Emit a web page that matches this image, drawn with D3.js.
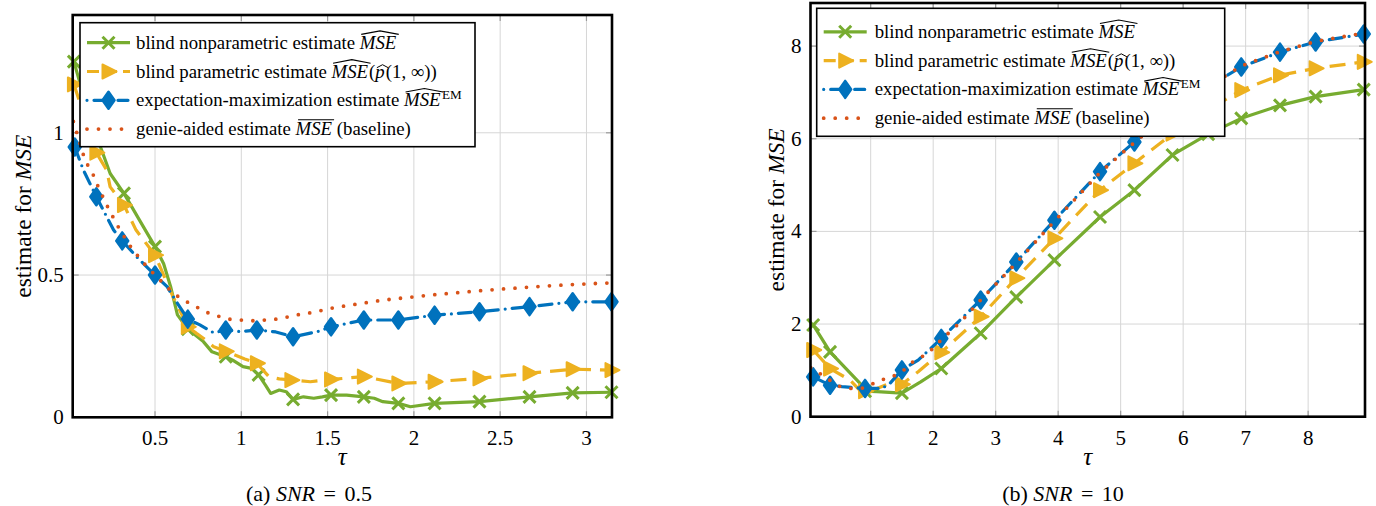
<!DOCTYPE html>
<html>
<head>
<meta charset="utf-8">
<script src="https://cdn.jsdelivr.net/npm/d3@7"></script>
</head>
<body style="margin:0;background:#fff">
<svg id="fig" width="1376" height="506" style="display:block"></svg>
<script>
// values: [tau, estimate, marker drawn?]
const snr05Nonparam = [
  [0.03, 1.25, 1], [0.1, 1.1, 0], [0.16, 0.99, 1], [0.24, 0.857, 0], [0.32, 0.787, 1],
  [0.41, 0.693, 0], [0.5, 0.6, 1], [0.55, 0.54, 0], [0.59, 0.46, 0], [0.63, 0.36, 0],
  [0.69, 0.31, 1], [0.78, 0.266, 0], [0.83, 0.23, 0], [0.91, 0.213, 1], [0.95, 0.201, 0],
  [1.01, 0.178, 0], [1.06, 0.172, 0], [1.1, 0.149, 1], [1.14, 0.113, 0], [1.17, 0.084, 0],
  [1.22, 0.096, 0], [1.26, 0.09, 0], [1.3, 0.063, 1], [1.36, 0.072, 0], [1.42, 0.067, 0],
  [1.47, 0.072, 0], [1.52, 0.078, 1], [1.61, 0.078, 0], [1.71, 0.072, 1], [1.77, 0.067, 0],
  [1.82, 0.055, 0], [1.91, 0.049, 1], [1.98, 0.037, 0], [2.12, 0.049, 1], [2.38, 0.055, 1],
  [2.67, 0.072, 1], [2.92, 0.086, 1], [3.145, 0.088, 1]
];
const snr05Param = [
  [0.03, 1.17, 1], [0.16, 0.93, 1], [0.22, 0.869, 0], [0.24, 0.81, 0], [0.32, 0.746, 1],
  [0.39, 0.658, 0], [0.5, 0.57, 1], [0.6, 0.43, 0], [0.69, 0.318, 1], [0.74, 0.295, 0],
  [0.78, 0.278, 0], [0.84, 0.248, 0], [0.91, 0.232, 1], [1.02, 0.205, 0], [1.09, 0.19, 1],
  [1.16, 0.143, 0], [1.22, 0.135, 0], [1.29, 0.131, 1], [1.4, 0.125, 0], [1.52, 0.133, 1],
  [1.71, 0.143, 1], [1.91, 0.119, 1], [2.12, 0.125, 1], [2.38, 0.137, 1], [2.67, 0.155, 1],
  [2.92, 0.169, 1], [3.145, 0.166, 1]
];
const snr05EM = [
  [0.035, 0.95, 1], [0.085, 0.869, 0], [0.16, 0.775, 1], [0.22, 0.705, 0], [0.26, 0.658, 0],
  [0.31, 0.62, 1], [0.4, 0.56, 0], [0.5, 0.5, 1], [0.57, 0.459, 0], [0.62, 0.41, 0],
  [0.69, 0.345, 1], [0.76, 0.325, 0], [0.84, 0.297, 0], [0.91, 0.307, 1], [1.0, 0.301, 0],
  [1.09, 0.307, 1], [1.2, 0.3, 0], [1.3, 0.283, 1], [1.44, 0.301, 0], [1.52, 0.318, 1],
  [1.71, 0.342, 1], [1.91, 0.342, 1], [2.12, 0.359, 1], [2.38, 0.371, 1], [2.67, 0.389, 1],
  [2.92, 0.406, 1], [3.145, 0.406, 1]
];
const snr05Genie = [
  [0.027, 1.04, 0], [0.094, 0.904, 0], [0.143, 0.851, 0], [0.171, 0.81, 0], [0.23, 0.734, 0],
  [0.297, 0.658, 0], [0.365, 0.594, 0], [0.43, 0.545, 0], [0.5, 0.5, 0], [0.558, 0.465, 0],
  [0.606, 0.436, 0], [0.664, 0.412, 0], [0.732, 0.391, 0], [0.79, 0.371, 0], [0.857, 0.357, 0],
  [0.925, 0.345, 0], [0.993, 0.342, 0], [1.06, 0.339, 0], [1.137, 0.342, 0], [1.205, 0.345, 0],
  [1.272, 0.353, 0], [1.34, 0.362, 0], [1.408, 0.368, 0], [1.475, 0.377, 0], [1.543, 0.386, 0],
  [1.823, 0.412, 0], [2.103, 0.43, 0], [2.383, 0.445, 0], [2.653, 0.457, 0], [2.866, 0.465, 0],
  [3.078, 0.471, 0], [3.145, 0.472, 0]
];

const snr10Nonparam = [
  [0.08, 1.98, 1], [0.35, 1.4, 1], [0.83, 0.72, 0], [0.91, 0.55, 1], [1.1, 0.54, 0],
  [1.5, 0.51, 1], [1.8, 0.75, 0], [2.13, 1.04, 1], [2.76, 1.8, 1], [3.33, 2.58, 1],
  [3.94, 3.38, 1], [4.67, 4.31, 1], [5.22, 4.89, 1], [5.83, 5.65, 1], [6.4, 6.1, 1],
  [6.93, 6.44, 1], [7.55, 6.72, 1], [8.12, 6.91, 1], [8.89, 7.06, 1]
];
const snr10Param = [
  [0.08, 1.44, 1], [0.35, 1.04, 1], [0.67, 0.79, 0], [0.86, 0.52, 0], [0.91, 0.55, 1],
  [1.1, 0.61, 0], [1.31, 0.72, 0], [1.5, 0.7, 1], [1.76, 0.97, 0], [2.13, 1.39, 1],
  [2.76, 2.16, 1], [3.33, 2.99, 1], [3.94, 3.85, 1], [4.67, 4.89, 1], [5.22, 5.47, 1],
  [5.83, 6.11, 1], [6.4, 6.62, 1], [6.93, 7.05, 1], [7.55, 7.37, 1], [8.12, 7.52, 1],
  [8.89, 7.66, 1]
];
const snr10EM = [
  [0.08, 0.86, 1], [0.35, 0.68, 1], [0.54, 0.65, 0], [0.72, 0.63, 0], [0.91, 0.61, 1],
  [1.18, 0.61, 0], [1.31, 0.72, 0], [1.5, 1.01, 1], [1.76, 1.22, 0], [2.13, 1.69, 1],
  [2.76, 2.52, 1], [3.33, 3.34, 1], [3.94, 4.24, 1], [4.67, 5.29, 1], [5.22, 5.93, 1],
  [5.83, 6.6, 1], [6.4, 7.12, 1], [6.93, 7.55, 1], [7.55, 7.87, 1], [8.12, 8.09, 1],
  [8.89, 8.26, 1]
];
const snr10Genie = [
  [0.04, 1.06, 0], [0.27, 0.86, 0], [0.38, 0.755, 0], [0.51, 0.65, 0], [0.67, 0.61, 0],
  [0.9, 0.62, 0], [1.15, 0.79, 0], [1.31, 0.84, 0], [1.5, 0.97, 0], [1.68, 1.19, 0],
  [1.92, 1.37, 0], [2.13, 1.66, 0], [2.45, 2.06, 0], [2.76, 2.52, 0], [3.33, 3.32, 0],
  [3.94, 4.22, 0], [4.67, 5.27, 0], [5.22, 5.92, 0], [5.83, 6.6, 0], [6.4, 7.12, 0],
  [6.93, 7.57, 0], [7.55, 7.88, 0], [8.12, 8.1, 0], [8.89, 8.28, 0]
];

const snr05XTicks = [0.5, 1, 1.5, 2, 2.5, 3];
const snr05YTicks = [0, 0.5, 1];
const snr10XTicks = [1, 2, 3, 4, 5, 6, 7, 8];
const snr10YTicks = [0, 2, 4, 6, 8];

const SERIF = "'Liberation Serif'";
const FONT = 18.8;

// how each estimator is drawn (same in both panels)
const styles = [
  { key: "nonparam", color: "#77AC30", dash: null, cap: "butt", width: 3.2, marker: "cross" },
  { key: "param", color: "#EDB120", dash: "16 9", cap: "butt", width: 3.2, marker: "triangle" },
  { key: "em", color: "#0072BD", dash: "13 7 0 7", cap: "round", width: 3.2, marker: "diamond" },
  { key: "genie", color: "#D95319", dash: "0 11.5", cap: "round", width: 3.8, marker: null }
];

const svg = d3.select("#fig");

// writes text made of pieces (plain / italic / superscript) and draws hats / bars
function mathText(parent, x, y, parts, size, anchor) {
  const g = parent.append("g");
  let cx = 0;
  parts.forEach(p => {
    const fs = p.sup ? size * 0.7 : size;
    const dy = p.sup ? -size * 0.4 : 0;
    const t = g.append("text")
      .attr("x", cx).attr("y", dy)
      .attr("xml:space", "preserve")
      .style("font-family", SERIF)
      .style("white-space", "pre")
      .style("font-size", fs + "px")
      .style("font-style", p.it ? "italic" : "normal")
      .text(p.t);
    const w = t.node().getComputedTextLength();
    if (p.deco == "hat") {
      g.append("path")
        .attr("d", `M${cx + 1.5},${-size * 0.76} L${cx + w / 2 + 2},${-size * 0.95} L${cx + w + 2.5},${-size * 0.76}`)
        .attr("fill", "none").attr("stroke", "#000").attr("stroke-width", 1.1);
    } else if (p.deco == "bar") {
      g.append("line")
        .attr("x1", cx + 2.5).attr("x2", cx + w + 2)
        .attr("y1", -size * 0.82).attr("y2", -size * 0.82)
        .attr("stroke", "#000").attr("stroke-width", 1.1);
    } else if (p.deco == "smallhat") {
      g.append("path")
        .attr("d", `M${cx + 1.5},${-size * 0.52} L${cx + w / 2 + 2.5},${-size * 0.68} L${cx + w + 3.5},${-size * 0.52}`)
        .attr("fill", "none").attr("stroke", "#000").attr("stroke-width", 1);
    }
    cx += w + (p.gap || 0);
  });
  const shift = anchor == "middle" ? -cx / 2 : 0;
  g.attr("transform", `translate(${x + shift},${y})`);
  return g;
}

function drawMarker(sel, type, color) {
  if (type == "cross") {
    sel.append("path").attr("d", "M-6,-6L6,6M-6,6L6,-6")
      .attr("stroke", color).attr("stroke-width", 3).attr("fill", "none");
  } else if (type == "triangle") {
    sel.append("path").attr("d", "M-6,-7L8,0L-6,7Z")
      .attr("fill", color).attr("stroke", color).attr("stroke-width", 2).attr("stroke-linejoin", "round");
  } else if (type == "diamond") {
    sel.append("path").attr("d", "M0,-8.5L6,0L0,8.5L-6,0Z")
      .attr("fill", color).attr("stroke", color).attr("stroke-width", 2.5).attr("stroke-linejoin", "round");
  }
}

const legendLabels = [
  [{ t: "blind nonparametric estimate " }, { t: "MSE", it: true, deco: "hat" }],
  [{ t: "blind parametric estimate " }, { t: "MSE", it: true, deco: "hat", gap: 1 }, { t: "(" },
   { t: "p", it: true, deco: "smallhat", gap: 1 }, { t: "(1, ∞))" }],
  [{ t: "expectation-maximization estimate " }, { t: "MSE", it: true, deco: "hat", gap: 1.5 }, { t: "EM", sup: true }],
  [{ t: "genie-aided estimate " }, { t: "MSE", it: true, deco: "bar" }, { t: " (baseline)" }]
];

function drawPanel(p) {
  const x = d3.scaleLinear().domain(p.xDomain).range([p.left, p.right]);
  const y = d3.scaleLinear().domain(p.yDomain).range([p.bottom, p.top]);
  const g = svg.append("g");

  // grid
  g.append("g").selectAll("line").data(p.xTicks).enter().append("line")
    .attr("x1", d => x(d)).attr("x2", d => x(d))
    .attr("y1", p.top).attr("y2", p.bottom)
    .attr("stroke", "#d6d6d6").attr("stroke-width", 1);
  g.append("g").selectAll("line").data(p.yTicks).enter().append("line")
    .attr("x1", p.left).attr("x2", p.right)
    .attr("y1", d => y(d)).attr("y2", d => y(d))
    .attr("stroke", "#d6d6d6").attr("stroke-width", 1);
  // small ticks on every side
  p.xTicks.forEach(d => {
    g.append("line").attr("x1", x(d)).attr("x2", x(d)).attr("y1", p.bottom).attr("y2", p.bottom - 6)
      .attr("stroke", "#9a9a9a").attr("stroke-width", 1.2);
    g.append("line").attr("x1", x(d)).attr("x2", x(d)).attr("y1", p.top).attr("y2", p.top + 6)
      .attr("stroke", "#9a9a9a").attr("stroke-width", 1.2);
  });
  p.yTicks.forEach(d => {
    g.append("line").attr("x1", p.left).attr("x2", p.left + 6).attr("y1", y(d)).attr("y2", y(d))
      .attr("stroke", "#9a9a9a").attr("stroke-width", 1.2);
    g.append("line").attr("x1", p.right).attr("x2", p.right - 6).attr("y1", y(d)).attr("y2", y(d))
      .attr("stroke", "#9a9a9a").attr("stroke-width", 1.2);
  });

  const clipId = "clip" + p.id;
  svg.append("defs").append("clipPath").attr("id", clipId)
    .append("rect").attr("x", p.left).attr("y", p.top)
    .attr("width", p.right - p.left).attr("height", p.bottom - p.top);

  const line = d3.line().x(d => x(d[0])).y(d => y(d[1]));

  p.series.forEach((data, i) => {
    const s = styles[i];
    g.append("path").datum(data)
      .attr("clip-path", `url(#${clipId})`)
      .attr("d", line)
      .attr("fill", "none")
      .attr("stroke", s.color)
      .attr("stroke-width", s.width)
      .attr("stroke-dasharray", s.dash)
      .attr("stroke-linecap", s.cap)
      .attr("stroke-linejoin", "round");
    if (s.marker) {
      g.append("g").selectAll("g").data(data.filter(d => d[2])).enter().append("g")
        .attr("transform", d => `translate(${x(d[0])},${y(d[1])})`)
        .each(function () { drawMarker(d3.select(this), s.marker, s.color); });
    }
  });

  // frame
  g.append("rect").attr("x", p.left).attr("y", p.top)
    .attr("width", p.right - p.left).attr("height", p.bottom - p.top)
    .attr("fill", "none").attr("stroke", "#000").attr("stroke-width", 2.6);

  // tick labels
  g.append("g").selectAll("text").data(p.xTicks).enter().append("text")
    .attr("x", d => x(d)).attr("y", p.bottom + 28)
    .attr("text-anchor", "middle").style("font-family", SERIF).style("font-size", "21px")
    .text(d => String(d));
  g.append("g").selectAll("text").data(p.yTicks).enter().append("text")
    .attr("x", p.left - 9).attr("y", d => y(d) + 7)
    .attr("text-anchor", "end").style("font-family", SERIF).style("font-size", "21px")
    .text(d => String(d));

  // axis labels
  mathText(g, (p.left + p.right) / 2, p.bottom + 48, [{ t: "τ", it: true }], 25, "middle");
  const yl = g.append("g").attr("transform", `translate(${p.yLabelX},${(p.top + p.bottom) / 2}) rotate(-90)`);
  mathText(yl, 0, 0, [{ t: "estimate for " }, { t: "MSE", it: true }], 23.5, "middle");

  // caption
  mathText(g, p.captionX, 501, p.caption, 22, "middle");

  // legend
  const lg = g.append("g");
  lg.append("rect").attr("x", p.legend.x).attr("y", p.legend.y)
    .attr("width", p.legend.w).attr("height", p.legend.h)
    .attr("fill", "#fff").attr("stroke", "#000").attr("stroke-width", 1.6);
  legendLabels.forEach((lab, i) => {
    const s = styles[i];
    const ry = p.legend.y + p.legend.first + i * 28.8;
    const lx0 = p.legend.x + 7, lx1 = p.legend.x + 50;
    lg.append("line").attr("x1", lx0).attr("x2", lx1).attr("y1", ry).attr("y2", ry)
      .attr("stroke", s.color).attr("stroke-width", s.width)
      .attr("stroke-dasharray", s.key == "param" ? "12 6" : s.key == "em" ? "0 7 10 7" : s.dash)
      .attr("stroke-linecap", s.cap);
    if (s.marker) {
      const m = lg.append("g").attr("transform", `translate(${(lx0 + lx1) / 2},${ry})`);
      drawMarker(m, s.marker, s.color);
    }
    mathText(lg, p.legend.x + p.legend.textDx, ry + 6, lab, FONT, "start");
  });
}

drawPanel({
  id: "a", left: 72.7, right: 612, top: 15, bottom: 417.3,
  xDomain: [0.023, 3.148], yDomain: [0, 1.414],
  xTicks: snr05XTicks, yTicks: snr05YTicks,
  series: [snr05Nonparam, snr05Param, snr05EM, snr05Genie],
  legend: { x: 80, y: 22.7, w: 395, h: 124, first: 20, textDx: 56 },
  yLabelX: 31, captionX: 309,
  caption: [{ t: "(a) " }, { t: "SNR", it: true, gap: 3 }, { t: " = ", gap: 3 }, { t: "0.5" }]
});

drawPanel({
  id: "b", left: 810.5, right: 1365, top: 3, bottom: 416.7,
  xDomain: [0.037, 8.91], yDomain: [0, 8.93],
  xTicks: snr10XTicks, yTicks: snr10YTicks,
  series: [snr10Nonparam, snr10Param, snr10EM, snr10Genie],
  legend: { x: 816.7, y: 8.3, w: 408, h: 128, first: 23.5, textDx: 58 },
  yLabelX: 784, captionX: 1063,
  caption: [{ t: "(b) " }, { t: "SNR", it: true, gap: 3 }, { t: " = ", gap: 3 }, { t: "10" }]
});
</script>
</body>
</html>
